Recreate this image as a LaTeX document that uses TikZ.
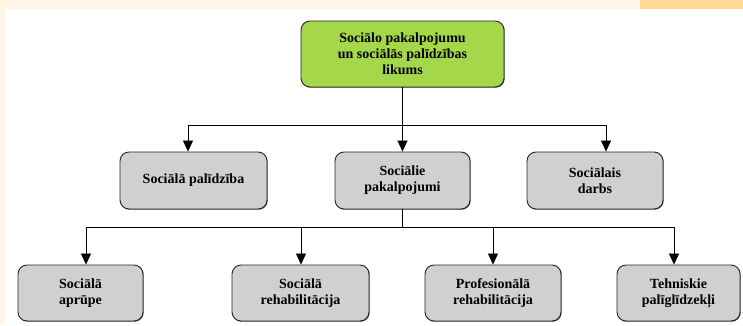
\documentclass[tikz,border=0pt]{standalone}
\usepackage{fontspec}
\setmainfont{Liberation Serif}
\usetikzlibrary{arrows.meta, shadows}
\definecolor{pagecream}{HTML}{FFF5E7}
\definecolor{pagetab}{HTML}{FFD895}
\definecolor{lawgreen}{HTML}{A4D84A}
\definecolor{boxgray}{HTML}{D0D0D0}

\begin{document}
\begin{tikzpicture}[x=1pt,y=1pt,
  box/.style={draw=black!85, line width=0.9pt, rounded corners=9pt, fill=boxgray,
    align=center, inner sep=2pt, font=\bfseries\fontsize{14}{16}\selectfont,
    drop shadow={shadow xshift=0.7pt, shadow yshift=-0.7pt, fill=black!70, opacity=1}},
  link/.style={line width=0.8pt},
  arr/.style={link, -{Triangle[length=11pt,width=10pt]}}]
  \useasboundingbox (0,0) rectangle (743,325);
  \fill[pagecream] (0,0) rectangle (743,325);
  \fill[white] (4.5,0) rectangle (743,316);
  \fill[pagetab] (640,316) rectangle (743,325);
  % law
  \node[box, fill=lawgreen, minimum width=203pt, minimum height=66pt] (law) at (402.5,271)
    {Sociālo pakalpojumu\\un sociālās palīdzības\\likums};
  % first row
  \node[box, minimum width=147pt, minimum height=57pt] (help)  at (193.5,144.5) {Sociālā palīdzība};
  \node[box, minimum width=135pt, minimum height=57pt] (serv)  at (402.5,144.5) {Sociālie\\pakalpojumi};
  \node[box, minimum width=136pt, minimum height=57pt] (work)  at (595,144.5)   {Sociālais\\darbs};
  % second row
  \node[box, minimum width=125pt, minimum height=56pt] (care)  at (80.5,32)  {Sociālā\\aprūpe};
  \node[box, minimum width=137pt, minimum height=56pt] (rehab) at (300.5,32) {Sociālā\\rehabilitācija};
  \node[box, minimum width=136pt, minimum height=56pt] (prof)  at (493,32)   {Profesionālā\\rehabilitācija};
  \node[box, minimum width=123pt, minimum height=56pt] (tech)  at (678.5,32) {Tehniskie\\palīglīdzekļi};
  % upper bus
  \coordinate (busA) at (402.5,200);
  \coordinate (busAl) at (188,200);
  \coordinate (busAr) at (606,200);
  \draw[link] (law.south) -- (busA);
  \draw[link] (busAl) -- (busAr);
  \draw[arr] (busAl) -- (busAl |- help.north);
  \draw[arr] (busA) -- (serv.north);
  \draw[arr] (busAr) -- (busAr |- work.north);
  % lower bus
  \coordinate (busB) at (402.5,98);
  \coordinate (busB1) at (86,98);
  \coordinate (busB2) at (301,98);
  \coordinate (busB3) at (493,98);
  \coordinate (busB4) at (674,98);
  \draw[link] (serv.south) -- (busB);
  \draw[link] (busB1) -- (busB4);
  \draw[arr] (busB1) -- (busB1 |- care.north);
  \draw[arr] (busB2) -- (busB2 |- rehab.north);
  \draw[arr] (busB3) -- (busB3 |- prof.north);
  \draw[arr] (busB4) -- (busB4 |- tech.north);
\end{tikzpicture}
\end{document}
